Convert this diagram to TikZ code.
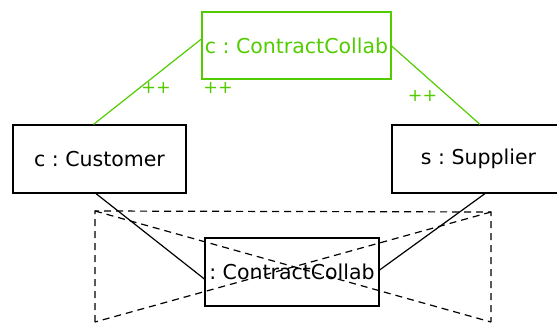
\documentclass[tikz,border=0pt]{standalone}
\usepackage{fontspec}
\setmainfont{DejaVu Sans}
\usetikzlibrary{calc}
\definecolor{collabgreen}{RGB}{82,204,0}
\tikzset{
  obj/.style={draw, line width=1.2pt, inner sep=0pt, font=\fontsize{20.5}{24}\selectfont\frenchspacing},
  collab/.style={obj, draw=collabgreen, text=collabgreen},
  link/.style={line width=1.2pt},
  glink/.style={link, draw=collabgreen},
  mult/.style={text=collabgreen, inner sep=0pt, font=\fontsize{17.5}{20}\selectfont},
  frame/.style={line width=1.2pt, dash pattern=on 7pt off 5pt}
}
\begin{document}
\begin{tikzpicture}[x=1pt, y=-1pt]
  \useasboundingbox (0,0) rectangle (557,322);

  % objects
  \node[collab, minimum width=189pt, minimum height=67pt] (cc) at (296.5,45.5) {c : ContractCollab};
  \node[obj, minimum width=173pt, minimum height=68pt] (cust) at (99.5,159) {c : Customer};
  \node[obj, minimum width=173pt, minimum height=68pt] (supp) at (478.5,159) {s : Supplier};
  \node[obj, minimum width=174pt, minimum height=68pt] (anon) at (292,272) {: ContractCollab};

  % collaboration links
  \draw[glink] ($(cust.north)+(-6,0)$) -- ($(cc.west)+(0,-6.5)$);
  \draw[glink] ($(cc.east)+(0,0.5)$) -- ($(supp.north)+(1.5,0)$);
  \draw[link] ($(cust.south)+(-3.5,0)$) -- ($(anon.west)+(0,7)$);
  \draw[link] ($(supp.south)+(6.5,0)$) -- ($(anon.east)+(0,-2)$);

  % multiplicities
  \node[mult] (m1) at (156,88) {++};
  \node[mult] (m2) at (218,88) {++};
  \node[mult] (m3) at (422.5,96) {++};

  % dashed collaboration frame
  \coordinate (tl) at (95,211);
  \coordinate (tr) at (491,212);
  \coordinate (bl) at (95,322);
  \coordinate (br) at (491,322);
  \draw[frame] (bl) -- (tl) -- (tr) -- (br);
  \draw[frame] (tl) -- (br);
  \draw[frame] (tr) -- (bl);
\end{tikzpicture}
\end{document}
